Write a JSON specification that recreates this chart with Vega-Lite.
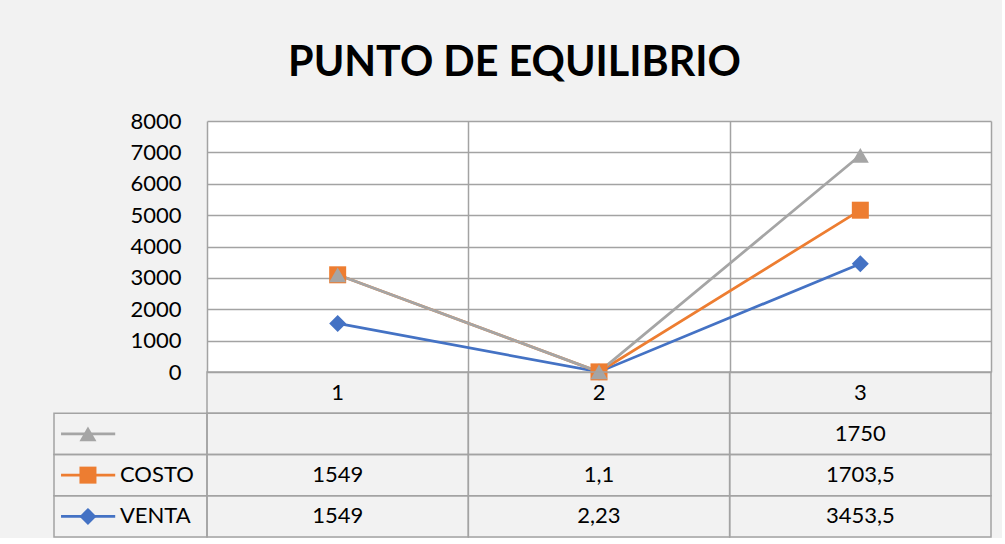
{
  "$schema": "https://vega.github.io/schema/vega-lite/v6.json",
  "background": "#f2f2f2",
  "padding": {"left": 53, "top": 42, "right": 10, "bottom": 0},
  "title": {"text": "PUNTO DE EQUILIBRIO", "font": "Lato", "fontSize": 41.3, "fontWeight": "bold", "color": "#000000", "anchor": "middle", "offset": 26, "dx": -8},
  "data": {"values": [
    {"x": "1", "series": "VENTA", "value": 1549, "label": "1549"},
    {"x": "2", "series": "VENTA", "value": 2.23, "label": "2,23"},
    {"x": "3", "series": "VENTA", "value": 3453.5, "label": "3453,5"},
    {"x": "1", "series": "COSTO", "value": 1549, "label": "1549"},
    {"x": "2", "series": "COSTO", "value": 1.1, "label": "1,1"},
    {"x": "3", "series": "COSTO", "value": 1703.5, "label": "1703,5"},
    {"x": "1", "series": "", "value": 0, "label": ""},
    {"x": "2", "series": "", "value": 0, "label": ""},
    {"x": "3", "series": "", "value": 1750, "label": "1750"}
  ]},
  "columns": 2,
  "spacing": 0,
  "bounds": "flush",
  "concat": [
    {
      "width": 153,
      "height": 251,
      "view": {"stroke": null},
      "transform": [{"filter": "false"}],
      "mark": {"type": "point", "opacity": 0},
      "encoding": {}
    },
    {
      "width": 784,
      "height": 251,
      "view": {"fill": "white", "stroke": null},
      "encoding": {
        "x": {"field": "x", "type": "ordinal", "scale": {"paddingInner": 0, "paddingOuter": 0},
          "axis": {"labels": false, "ticks": false, "domain": false, "grid": true, "tickBand": "extent", "gridColor": "#a3a3a3", "gridWidth": 1.5, "title": null}},
        "y": {"field": "value", "type": "quantitative", "stack": "zero",
          "scale": {"domain": [0, 8000], "nice": false},
          "axis": {"values": [0, 1000, 2000, 3000, 4000, 5000, 6000, 7000, 8000], "format": "d", "title": null, "domain": false, "ticks": false, "tickSize": 0, "labelPadding": 26, "labelFont": "Lato", "labelFontSize": 22, "labelColor": "#000000", "gridColor": "#a3a3a3", "gridWidth": 1.5}},
        "order": {"field": "series", "sort": "descending"},
        "color": {"field": "series", "type": "nominal", "legend": null,
          "scale": {"domain": ["VENTA", "COSTO", ""], "range": ["#4472c4", "#ed7d31", "#a5a5a5"]}},
        "shape": {"field": "series", "type": "nominal", "legend": null,
          "scale": {"domain": ["VENTA", "COSTO", ""], "range": ["diamond", "square", "triangle-up"]}}
      },
      "layer": [
        {"mark": {"type": "line", "strokeWidth": 2.75}},
        {"mark": {"type": "point", "filled": true, "opacity": 1, "size": 289}}
      ]
    },
    {
      "width": 153,
      "height": 165,
      "view": {"stroke": null},
      "transform": [{"filter": "datum.x === '1'"}],
      "encoding": {
        "y": {"field": "series", "type": "nominal", "axis": null,
          "scale": {"domain": ["h", "", "COSTO", "VENTA"], "paddingInner": 0, "paddingOuter": 0}}
      },
      "layer": [
        {"mark": {"type": "rect", "fill": "transparent", "stroke": "#a3a3a3", "strokeWidth": 1.5},
          "encoding": {
            "x": {"datum": 0, "type": "quantitative", "scale": {"domain": [0, 1], "nice": false}, "axis": null},
            "x2": {"datum": 1}
          }},
        {"mark": {"type": "rule", "strokeWidth": 2.75},
          "encoding": {
            "x": {"datum": 0.046, "type": "quantitative"},
            "x2": {"datum": 0.4},
            "color": {"field": "series", "type": "nominal", "legend": null}
          }},
        {"mark": {"type": "point", "filled": true, "opacity": 1, "size": 289},
          "encoding": {
            "x": {"datum": 0.222, "type": "quantitative"},
            "color": {"field": "series", "type": "nominal", "legend": null},
            "shape": {"field": "series", "type": "nominal", "legend": null}
          }},
        {"mark": {"type": "text", "align": "left", "baseline": "middle", "font": "Lato", "fontSize": 22, "color": "#000000"},
          "encoding": {
            "x": {"datum": 0.431, "type": "quantitative"},
            "text": {"field": "series"}
          }}
      ]
    },
    {
      "width": 784,
      "height": 165,
      "view": {"stroke": null},
      "encoding": {
        "x": {"field": "x", "type": "ordinal", "axis": null, "scale": {"paddingInner": 0, "paddingOuter": 0}}
      },
      "layer": [
        {"mark": {"type": "rect", "fill": "transparent", "stroke": "#a3a3a3", "strokeWidth": 1.5},
          "encoding": {
            "y": {"field": "series", "type": "nominal", "axis": null,
              "scale": {"domain": ["h", "", "COSTO", "VENTA"], "paddingInner": 0, "paddingOuter": 0}}
          }},
        {"transform": [{"filter": "datum.series === 'VENTA'"}],
          "mark": {"type": "rect", "fill": "transparent", "stroke": "#a3a3a3", "strokeWidth": 1.5},
          "encoding": {"y": {"datum": "h", "type": "nominal"}}},
        {"mark": {"type": "text", "baseline": "middle", "font": "Lato", "fontSize": 22, "color": "#000000"},
          "encoding": {
            "y": {"field": "series", "type": "nominal"},
            "text": {"field": "label"}
          }},
        {"transform": [{"filter": "datum.series === 'VENTA'"}],
          "mark": {"type": "text", "baseline": "middle", "font": "Lato", "fontSize": 22, "color": "#000000"},
          "encoding": {
            "y": {"datum": "h", "type": "nominal"},
            "text": {"field": "x"}
          }}
      ]
    }
  ],
  "config": {"view": {"stroke": null}}
}
